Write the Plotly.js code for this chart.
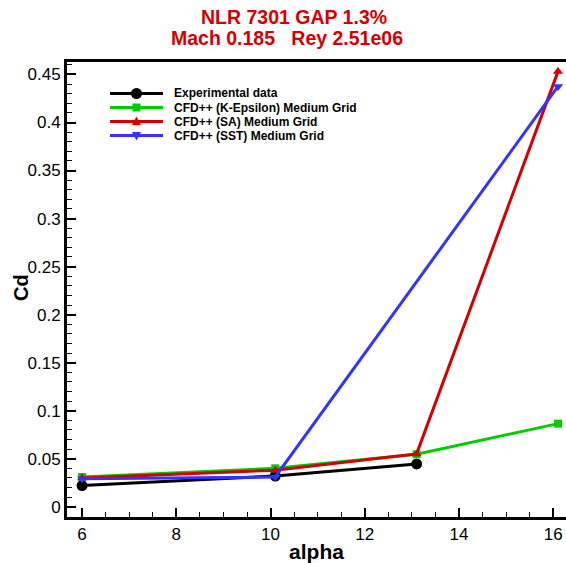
<!DOCTYPE html>
<html>
<head>
<meta charset="utf-8">
<script src="https://cdn.plot.ly/plotly-3.0.1.min.js"></script>
<style>html,body{margin:0;padding:0;background:#fff;}#chart{width:566px;height:563px;}</style>
</head>
<body>
<div id="chart"></div>
<script>
const expAlpha = [6, 10.1, 13.1];
const expCd = [0.022, 0.032, 0.0445];
const keAlpha = [6, 10.1, 13.1, 16.1];
const keCd = [0.031, 0.040, 0.0546, 0.0865];
const saAlpha = [6, 10.1, 13.1, 16.1];
const saCd = [0.030, 0.038, 0.055, 0.453];
const sstAlpha = [6, 10.1, 16.1];
const sstCd = [0.029, 0.031, 0.4375];
const seriesNames = ["Experimental data", "CFD++ (K-Epsilon) Medium Grid", "CFD++ (SA) Medium Grid", "CFD++ (SST) Medium Grid"];
const seriesColors = ["#000000", "#00cc00", "#d40000", "#3333ff"];
const xTicks = [6, 8, 10, 12, 14, 16];
const yTicks = [0, 0.05, 0.1, 0.15, 0.2, 0.25, 0.3, 0.35, 0.4, 0.45];
const yTickText = ["0", "0.05", "0.1", "0.15", "0.2", "0.25", "0.3", "0.35", "0.4", "0.45"];
const titleLines = ["NLR 7301 GAP 1.3%", "Mach 0.185   Rey 2.51e06"];

const FONT = "Liberation Sans, Arial, sans-serif";
const W = 566, H = 563, ML = 67, MR = 0, MT = 62, MB = 46;
const PW = W - ML - MR, PH = H - MT - MB;
const px = v => (v - ML) / PW;       // pixel x -> paper x
const py = v => (H - MB - v) / PH;   // pixel y -> paper y

const traces = [
  {x: expAlpha, y: expCd, name: seriesNames[0], mode: "lines+markers",
   line: {color: seriesColors[0], width: 3}, marker: {symbol: "circle", size: 11, color: seriesColors[0]}},
  {x: keAlpha, y: keCd, name: seriesNames[1], mode: "lines+markers",
   line: {color: seriesColors[1], width: 3}, marker: {symbol: "square", size: 8, color: seriesColors[1]}},
  {x: saAlpha, y: saCd, name: seriesNames[2], mode: "lines+markers",
   line: {color: seriesColors[2], width: 3}, marker: {symbol: "triangle-up", size: 9, color: seriesColors[2]}},
  {x: sstAlpha, y: sstCd, name: seriesNames[3], mode: "lines+markers",
   line: {color: seriesColors[3], width: 3}, marker: {symbol: "triangle-down", size: 9, color: seriesColors[3]}}
];

// Manual legend (compact rows like the reference)
const legRows = [93.5, 107.5, 121.5, 135.5];
const legX0 = 110, legX1 = 163, legMx = 136.5, legTx = 172;
const shapes = [];
const annotations = [];
legRows.forEach((ry, i) => {
  const c = seriesColors[i];
  shapes.push({type: "line", xref: "paper", yref: "paper", x0: px(legX0), x1: px(legX1), y0: py(ry), y1: py(ry),
               line: {color: c, width: 3}});
  if (i === 0) {
    shapes.push({type: "circle", xref: "paper", yref: "paper", x0: px(legMx - 5.5), x1: px(legMx + 5.5),
                 y0: py(ry + 5.5), y1: py(ry - 5.5), fillcolor: c, line: {color: c, width: 0}});
  } else if (i === 1) {
    shapes.push({type: "rect", xref: "paper", yref: "paper", x0: px(legMx - 4), x1: px(legMx + 4),
                 y0: py(ry + 4), y1: py(ry - 4), fillcolor: c, line: {color: c, width: 0}});
  } else if (i === 2) {
    shapes.push({type: "path", xref: "paper", yref: "paper",
                 path: `M${px(legMx - 4.5)},${py(ry + 3.5)} L${px(legMx + 4.5)},${py(ry + 3.5)} L${px(legMx)},${py(ry - 5)} Z`,
                 fillcolor: c, line: {color: c, width: 0}});
  } else {
    shapes.push({type: "path", xref: "paper", yref: "paper",
                 path: `M${px(legMx - 4.5)},${py(ry - 3.5)} L${px(legMx + 4.5)},${py(ry - 3.5)} L${px(legMx)},${py(ry + 5)} Z`,
                 fillcolor: c, line: {color: c, width: 0}});
  }
  annotations.push({xref: "paper", yref: "paper", x: px(legTx), y: py(ry), xanchor: "left", yanchor: "middle",
                    text: "<b>" + seriesNames[i] + "</b>", showarrow: false,
                    font: {family: FONT, size: 12, color: "#000000"}});
});

// Title lines
annotations.push({xref: "paper", yref: "paper", x: px(294), y: py(17.5), xanchor: "center", yanchor: "middle",
                  text: "<b>" + titleLines[0] + "</b>", showarrow: false,
                  font: {family: FONT, size: 19.5, color: "#d40000"}});
annotations.push({xref: "paper", yref: "paper", x: px(286.5), y: py(38.5), xanchor: "center", yanchor: "middle",
                  text: "<b>" + titleLines[1] + "</b>", showarrow: false,
                  font: {family: FONT, size: 19.5, color: "#d40000"}});

// Y axis title (placed as rotated annotation to match reference position)
annotations.push({xref: "paper", yref: "paper", x: px(21), y: py(288), xanchor: "center", yanchor: "middle",
                  text: "<b>Cd</b>", textangle: -90, showarrow: false,
                  font: {family: FONT, size: 20, color: "#000000"}});

const layout = {
  width: W, height: H,
  margin: {l: ML, r: MR, t: MT, b: MB},
  paper_bgcolor: "#ffffff", plot_bgcolor: "#ffffff",
  font: {family: FONT, color: "#000000"},
  showlegend: false,
  shapes: shapes,
  annotations: annotations,
  xaxis: {range: [5.68, 16.27], tickvals: xTicks, ticktext: xTicks.map(String),
          ticks: "inside", ticklen: 9, tickwidth: 2, tickcolor: "#000",
          showline: true, linewidth: 3, linecolor: "#000", mirror: true,
          showgrid: false, zeroline: false,
          tickfont: {family: FONT, size: 17},
          minor: {dtick: 0.5, ticks: "inside", ticklen: 5, tickwidth: 1, tickcolor: "#000", showgrid: false},
          title: {text: "<b>alpha</b>", font: {family: FONT, size: 21}, standoff: 2}},
  yaxis: {range: [-0.0107, 0.463], tickvals: yTicks, ticktext: yTickText,
          ticks: "inside", ticklen: 9, tickwidth: 2, tickcolor: "#000",
          showline: true, linewidth: 3, linecolor: "#000", mirror: true,
          showgrid: false, zeroline: false,
          tickfont: {family: FONT, size: 17},
          minor: {dtick: 0.01, ticks: "inside", ticklen: 5, tickwidth: 1, tickcolor: "#000", showgrid: false}}
};

Plotly.newPlot("chart", traces, layout, {displayModeBar: false, staticPlot: true});
</script>
</body>
</html>
